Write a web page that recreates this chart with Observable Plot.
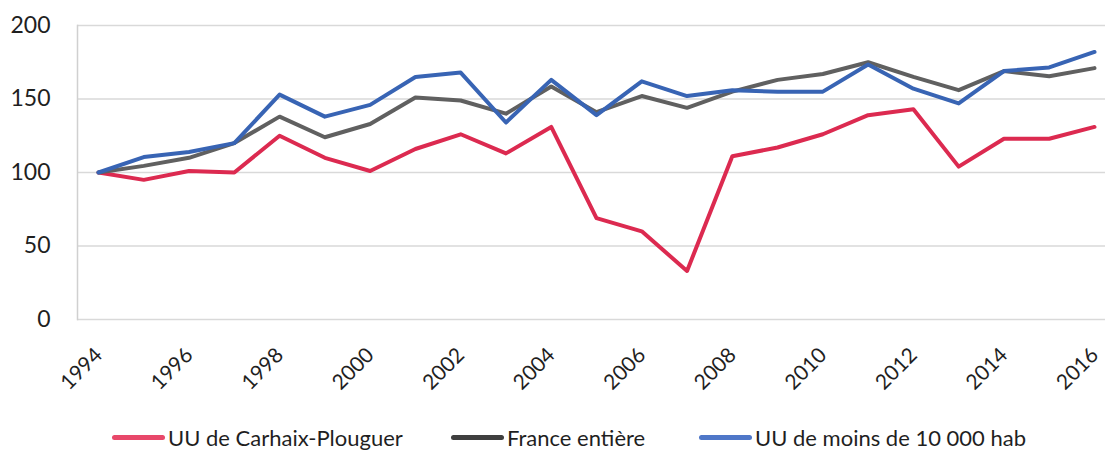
<!DOCTYPE html>
<html>
<head>
<meta charset="utf-8">
<script src="https://cdn.jsdelivr.net/npm/d3@7"></script>
<script src="https://cdn.jsdelivr.net/npm/@observablehq/plot@0.6"></script>
<style>
  html, body { margin: 0; padding: 0; background: #fff; }
  body { width: 1105px; height: 450px; overflow: hidden; font-family: Lato, "Open Sans", sans-serif; }
  #chart svg { display: block; }
  #legend { height: 30px; position: relative; margin-top: 10px; }
  .item { position: absolute; top: 0; height: 30px; display: flex; align-items: center; font-size: 22px; color: #1f1f1f; white-space: nowrap; }
  .sw { width: 53px; height: 5px; border-radius: 3px; margin-right: 3px; }
</style>
</head>
<body>
<div id="chart"></div>
<div id="legend"></div>
<script>
const years = d3.range(1994, 2017);
const carhaix = [100, 95, 101, 100, 125, 110, 101, 116, 126, 113, 131, 69, 60, 33, 111, 117, 126, 139, 143, 104, 123, 123, 131];
const france  = [100, 104.5, 110, 120, 138, 124, 133, 151, 149, 140, 158.5, 141, 152, 144, 155, 163, 167, 175, 165, 156, 169, 165.5, 171];
const small   = [100, 110.5, 114, 120, 153, 138, 146, 165, 168, 134, 163, 139, 162, 152, 156, 155, 155, 173.5, 157, 147, 169, 171.5, 182];
const seriesNames = ["UU de Carhaix-Plouguer", "France entière", "UU de moins de 10 000 hab"];
const seriesColors = ["#DC2A50", "#606060", "#3864B4"];
const legendColors = ["#E8486A", "#3F3F3F", "#4F77C8"];
const yTicks = [0, 50, 100, 150, 200];
const xTicks = d3.range(1994, 2017, 2);

const values = [carhaix, france, small];
const data = [];
values.forEach((arr, s) => arr.forEach((v, i) => data.push({year: years[i], value: v, series: seriesNames[s]})));

const chart = Plot.plot({
  width: 1105,
  height: 412,
  marginLeft: 98,
  marginRight: 11,
  marginTop: 25,
  marginBottom: 93,
  style: {fontFamily: "Lato, 'Open Sans', sans-serif", color: "#1f1f1f", background: "#fff"},
  x: {domain: [1994, 2016]},
  y: {domain: [0, 200]},
  color: {domain: seriesNames, range: seriesColors},
  marks: [
    Plot.ruleY(yTicks, {stroke: "#d9d9d9", strokeWidth: 1.3, insetLeft: -21, insetRight: -11}),
    Plot.frame({anchor: "left", stroke: "#d0d0d0", strokeWidth: 1.5, insetLeft: -21}),
    Plot.axisY({ticks: yTicks, tickSize: 0, tickPadding: 48, fontSize: 23, label: null}),
    Plot.axisX({ticks: xTicks, tickSize: 0, tickFormat: d => String(d), tickRotate: -45, fontSize: 21,
                textAnchor: "end", lineAnchor: "bottom", dx: 5, dy: 37, tickPadding: 0, label: null}),
    Plot.line(data, {x: "year", y: "value", z: "series", stroke: "series", strokeWidth: 4, strokeLinejoin: "round", strokeLinecap: "round"})
  ]
});
document.getElementById("chart").append(chart);

const legend = document.getElementById("legend");
const lefts = [112, 451, 699];
seriesNames.forEach((name, i) => {
  const item = document.createElement("div");
  item.className = "item";
  item.style.left = lefts[i] + "px";
  const sw = document.createElement("div");
  sw.className = "sw";
  sw.style.background = legendColors[i];
  const t = document.createElement("span");
  t.textContent = name;
  item.append(sw, t);
  legend.append(item);
});
</script>
</body>
</html>
